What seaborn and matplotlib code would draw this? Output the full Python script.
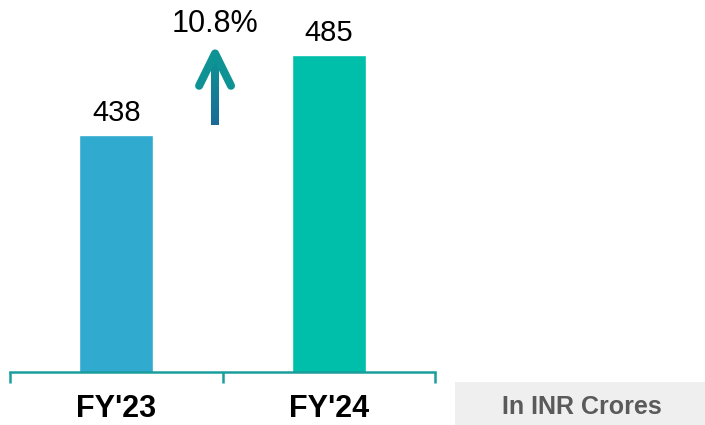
import matplotlib
matplotlib.use("Agg")
import matplotlib.pyplot as plt
import seaborn as sns
import pandas as pd
import numpy as np

categories = ["FY'23", "FY'24"]
values = [438, 485]
bar_colors = ["#31AACF", "#00BFAA"]
growth_label = "10.8%"
unit_label = "In INR Crores"

sns.set_theme(style="white")
plt.rcParams['font.family'] = ['Liberation Sans', 'DejaVu Sans']

fig = plt.figure(figsize=(7.05, 4.25), dpi=100)
W, H = 705, 425
ax = fig.add_axes([10 / W, (H - 372) / H, 425 / W, 372 / H])

df = pd.DataFrame({"cat": categories, "val": values})
sns.barplot(data=df, x="cat", y="val", hue="cat", palette=bar_colors,
            width=0.35, legend=False, ax=ax, saturation=1)

ax.set_xlim(-0.5, 1.5)
ax.set_ylim(298.8, 517.4)
for s in ["top", "right", "left"]:
    ax.spines[s].set_visible(False)
ax.spines["bottom"].set_color("#1A9E9C")
ax.spines["bottom"].set_linewidth(1.8)
ax.set_yticks([])
ax.set_xlabel("")
ax.set_ylabel("")
ax.set_xticks([-0.5, 0.5, 1.5], minor=False)
ax.set_xticklabels([])
ax.tick_params(axis="x", which="major", length=8, width=1.8, color="#1A9E9C",
               direction="out", bottom=True)
ax.set_xticks([0, 1], minor=True)
ax.set_xticklabels(categories, minor=True, fontsize=22, fontweight="bold", color="black")
ax.tick_params(axis="x", which="minor", length=0, pad=16)
ax.patch.set_alpha(0)

for i, v in enumerate(values):
    ax.text(i, v + 8.5, str(v), ha="center", va="baseline", fontsize=21, color="black")

# growth arrow with gradient
xa = 0.465
y_bot, y_top = 444, 486
n = 40
cmap = matplotlib.colors.LinearSegmentedColormap.from_list("g", ["#1B6A95", "#0E9294"])
ys = np.linspace(y_bot, y_top - 3, n + 1)
for k in range(n):
    ax.plot([xa, xa], [ys[k], ys[k + 1]], color=cmap(k / n), lw=5.8,
            solid_capstyle="butt", clip_on=False)
ax.plot([xa - 0.075, xa, xa + 0.075], [y_top - 19, y_top, y_top - 19],
        color="#0E9294", lw=5.8, solid_capstyle="round", solid_joinstyle="round",
        clip_on=False)
ax.text(xa, 498.6, growth_label, ha="center", va="baseline", fontsize=22, color="black")

# unit label box
fig.patches.append(plt.Rectangle((455 / W, 0), 250 / W, 43 / H, transform=fig.transFigure,
                                 facecolor="#EFEFEF", edgecolor="none"))
fig.text(582 / W, 17.5 / H, unit_label, ha="center", va="center", fontsize=18,
         fontweight="bold", color="#5A5A5A")

fig.savefig("out.png", dpi=100)
